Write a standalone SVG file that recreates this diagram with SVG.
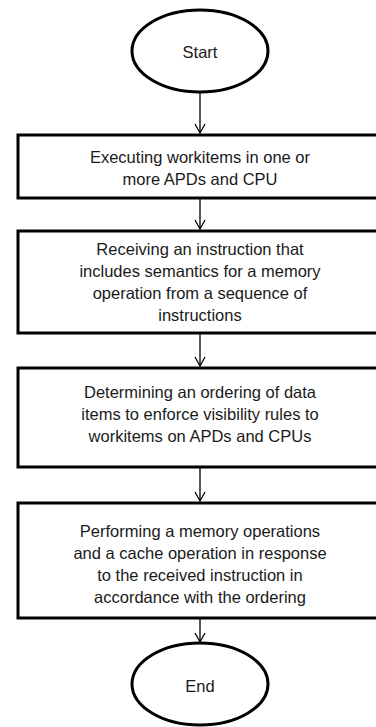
<svg xmlns="http://www.w3.org/2000/svg" width="376" height="727" viewBox="0 0 376 727">
<defs>
<style>
.shape{fill:#fff;stroke:#000;stroke-width:3}
.lbl{font-family:"Liberation Sans","DejaVu Sans",sans-serif;font-size:16.5px;fill:#1a1a1a;text-anchor:middle}
.conn{stroke:#000;stroke-width:1.3;fill:none}
</style>
<marker id="arr" markerWidth="12" markerHeight="12" refX="10" refY="6" orient="auto" markerUnits="userSpaceOnUse">
<path d="M1,1 L10,6 L1,11" fill="none" stroke="#000" stroke-width="1.3"/>
</marker>
</defs>
<rect width="376" height="727" fill="#fff"/>
<g id="connectors">
<line class="conn" x1="200" y1="92" x2="200" y2="133" marker-end="url(#arr)"/>
<line class="conn" x1="200" y1="199" x2="200" y2="229" marker-end="url(#arr)"/>
<line class="conn" x1="200" y1="334" x2="200" y2="366" marker-end="url(#arr)"/>
<line class="conn" x1="200" y1="468" x2="200" y2="501" marker-end="url(#arr)"/>
<line class="conn" x1="200" y1="619" x2="200" y2="642" marker-end="url(#arr)"/>
</g>
<g id="start">
<ellipse class="shape" cx="200" cy="51" rx="68" ry="41"/>
<text class="lbl" x="200" y="58">Start</text>
</g>
<g id="step1">
<rect class="shape" x="18" y="135" width="370" height="63"/>
<text class="lbl" x="200" y="163">Executing workitems in one or</text>
<text class="lbl" x="200" y="185">more APDs and CPU</text>
</g>
<g id="step2">
<rect class="shape" x="18" y="231" width="370" height="102"/>
<text class="lbl" x="200" y="255">Receiving an instruction that</text>
<text class="lbl" x="200" y="277">includes semantics for a memory</text>
<text class="lbl" x="200" y="299">operation from a sequence of</text>
<text class="lbl" x="200" y="321">instructions</text>
</g>
<g id="step3">
<rect class="shape" x="18" y="368" width="370" height="99"/>
<text class="lbl" x="200" y="398">Determining an ordering of data</text>
<text class="lbl" x="200" y="420">items to enforce visibility rules to</text>
<text class="lbl" x="200" y="442">workitems on APDs and CPUs</text>
</g>
<g id="step4">
<rect class="shape" x="18" y="503" width="370" height="115"/>
<text class="lbl" x="200" y="537">Performing a memory operations</text>
<text class="lbl" x="200" y="559">and a cache operation in response</text>
<text class="lbl" x="200" y="581">to the received instruction in</text>
<text class="lbl" x="200" y="603">accordance with the ordering</text>
</g>
<g id="end">
<ellipse class="shape" cx="200" cy="684" rx="68" ry="41"/>
<text class="lbl" x="200" y="692">End</text>
</g>
</svg>
